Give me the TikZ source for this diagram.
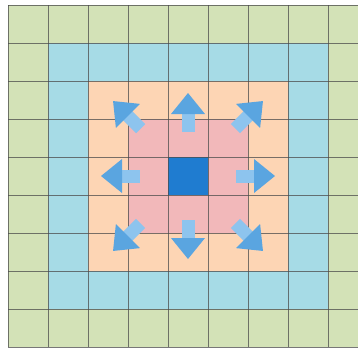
\documentclass[tikz,border=0pt]{standalone}
\usepackage{tikz}
\usetikzlibrary{calc}

\definecolor{ringgreen}{HTML}{D3E2B7}
\definecolor{ringblue}{HTML}{A6DBE6}
\definecolor{ringpeach}{HTML}{FDD5B4}
\definecolor{ringpink}{HTML}{F2B8BA}
\definecolor{centreblue}{HTML}{1F7CD0}
\definecolor{arrowdark}{HTML}{5AA5E0}
\definecolor{arrowlight}{HTML}{8DC4EE}

\newcommand{\spreadarrow}[2]{%
  \begin{scope}[shift={(188,176)}, rotate=#1]
    \fill[shaftfill] (#2,-6.5) rectangle ({#2+19},6.5);
    \fill[tipfill] ({#2+18},-17) -- ({#2+39},0) -- ({#2+18},17) -- cycle;
  \end{scope}}

\begin{document}
\begin{tikzpicture}[x=1pt, y=-1pt,
  gridline/.style={black!70, line width=0.7pt, opacity=0.75},
  shaftfill/.style={arrowlight},
  tipfill/.style={arrowdark}]
\useasboundingbox (0,0) rectangle (358,349);
\clip (0,0) rectangle (358,349);
\fill[white] (0,0) rectangle (358,349);
\fill[ringgreen] (8,5) rectangle (368,347);
\fill[ringblue] (48,43) rectangle (328,309);
\fill[ringpeach] (88,81) rectangle (288,271);
\fill[ringpink] (128,119) rectangle (248,233);
\fill[centreblue] (168,157) rectangle (208,195);
\foreach \i in {0,...,9} {
  \draw[gridline] ({8+40*\i},5) -- ({8+40*\i},347);
  \draw[gridline] (8,{5+38*\i}) -- (368,{5+38*\i});
}
\foreach \a in {0,180} {\spreadarrow{\a}{48}}
\foreach \a in {90,270} {\spreadarrow{\a}{44}}
\foreach \a in {45,135,225,315} {\spreadarrow{\a}{67}}
\end{tikzpicture}
\end{document}
